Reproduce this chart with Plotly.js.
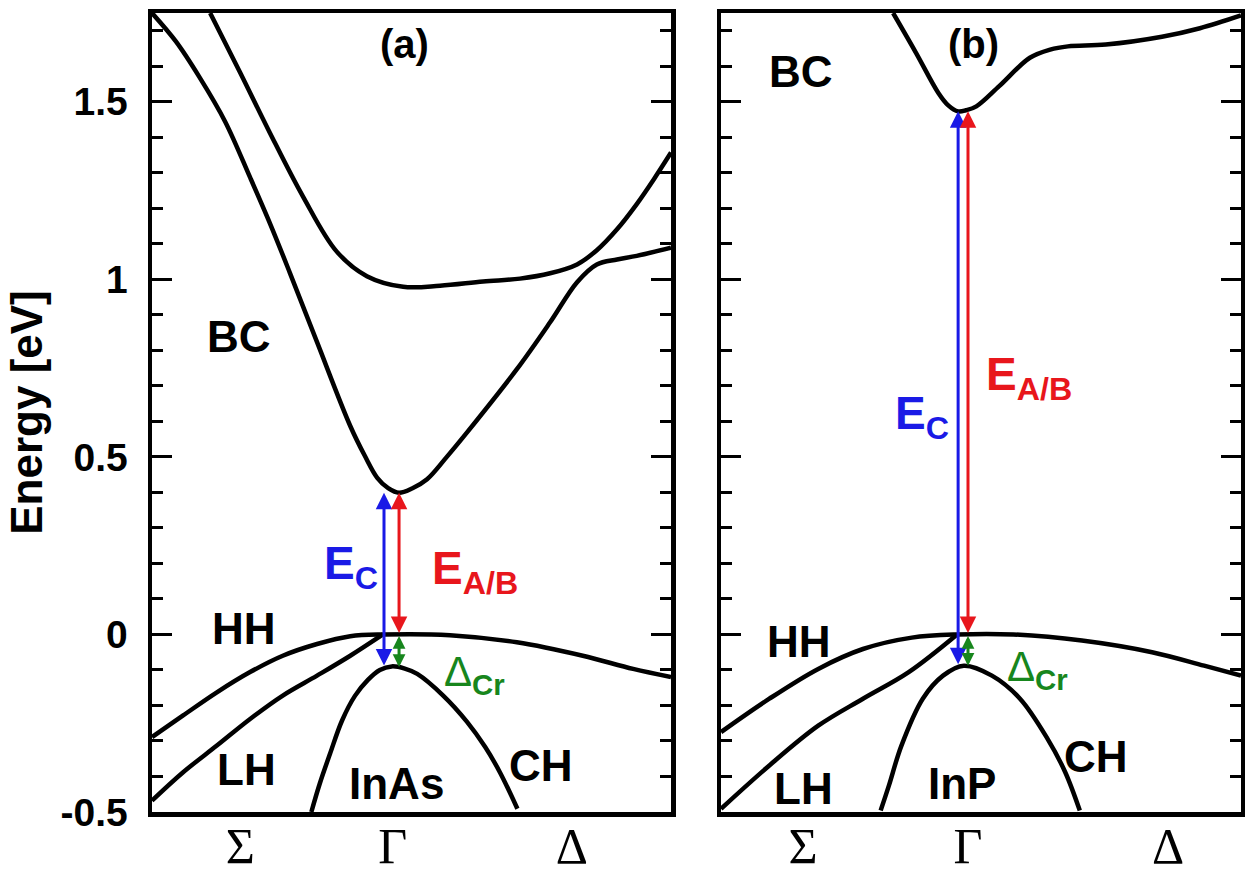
<!DOCTYPE html>
<html>
<head>
<meta charset="utf-8">
<script src="https://cdn.plot.ly/plotly-3.0.1.min.js"></script>
<style>html,body{margin:0;padding:0;background:#fff;}#plot{width:1245px;height:875px;}</style>
</head>
<body>
<div id="plot"></div>
<script>
// k-path position inside each panel: 0 = left edge (Σ side), 1 = right edge (Δ side); energies in eV

// ---- panel (a): InAs ----
const aBC1_k = [0.000, 0.046, 0.092, 0.141, 0.189, 0.228, 0.266, 0.318, 0.382, 0.410, 0.434, 0.455, 0.476, 0.501, 0.530, 0.568, 0.607, 0.703, 0.767, 0.819, 0.857, 0.896, 0.934, 1.000];
const aBC1_E = [1.750, 1.670, 1.568, 1.444, 1.287, 1.155, 1.017, 0.823, 0.587, 0.503, 0.441, 0.412, 0.399, 0.411, 0.437, 0.500, 0.569, 0.747, 0.879, 0.992, 1.042, 1.056, 1.066, 1.089];
const aBC2_k = [0.112, 0.170, 0.227, 0.291, 0.356, 0.414, 0.484, 0.555, 0.638, 0.709, 0.767, 0.819, 0.857, 0.896, 0.934, 0.967, 1.000];
const aBC2_E = [1.750, 1.582, 1.413, 1.233, 1.078, 1.009, 0.979, 0.982, 0.994, 1.002, 1.017, 1.042, 1.082, 1.141, 1.212, 1.282, 1.357];
const aHH_k = [0.000, 0.060, 0.125, 0.189, 0.252, 0.318, 0.382, 0.445, 0.574, 0.703, 0.830, 0.927, 1.000];
const aHH_E = [-0.289, -0.228, -0.163, -0.106, -0.060, -0.027, -0.005, 0.000, -0.002, -0.022, -0.060, -0.097, -0.120];
const aLH_k = [0.000, 0.060, 0.125, 0.189, 0.252, 0.318, 0.382, 0.445];
const aLH_E = [-0.468, -0.388, -0.313, -0.238, -0.172, -0.116, -0.060, 0.000];
const aCH_k = [0.307, 0.323, 0.343, 0.366, 0.391, 0.416, 0.439, 0.462, 0.487, 0.511, 0.561, 0.607, 0.642, 0.671, 0.704];
const aCH_E = [-0.500, -0.421, -0.336, -0.243, -0.173, -0.128, -0.100, -0.090, -0.096, -0.111, -0.172, -0.246, -0.317, -0.390, -0.491];

// ---- panel (b): InP ----
const bBC_k = [0.331, 0.375, 0.418, 0.437, 0.456, 0.471, 0.491, 0.535, 0.594, 0.633, 0.667, 0.740, 0.848, 0.921, 1.000];
const bBC_E = [1.750, 1.638, 1.525, 1.490, 1.473, 1.476, 1.487, 1.544, 1.624, 1.647, 1.656, 1.661, 1.683, 1.707, 1.743];
const bHH_k = [0.000, 0.093, 0.187, 0.273, 0.367, 0.454, 0.562, 0.694, 0.829, 0.929, 1.000];
const bHH_E = [-0.275, -0.181, -0.097, -0.041, -0.009, 0.000, 0.000, -0.017, -0.050, -0.088, -0.116];
const bLH_k = [0.000, 0.093, 0.187, 0.273, 0.361, 0.454];
const bLH_E = [-0.491, -0.369, -0.257, -0.181, -0.106, 0.000];
const bCH_k = [0.307, 0.323, 0.347, 0.388, 0.427, 0.467, 0.521, 0.575, 0.628, 0.662, 0.690];
const bCH_E = [-0.496, -0.425, -0.313, -0.181, -0.116, -0.088, -0.116, -0.181, -0.294, -0.388, -0.496];

// gap energies (eV): VBM, crystal-field-split band top, conduction band minimum
const vbm = [0.0, 0.0];
const chTop = [-0.092, -0.088];
const cbMin = [0.399, 1.473];

// tick labels
const yTickVals = [-0.5, 0, 0.5, 1, 1.5];
const yTickText = ['-0.5', '0', '0.5', '1', '1.5'];
const kLabels = ['\u03A3', '\u0393', '\u0394'];
const kLabelPosA = [0.170, 0.464, 0.809];
const kLabelPosB = [0.158, 0.475, 0.860];

const SANS = 'Liberation Sans, Arial, sans-serif';
const SERIF = 'Liberation Serif, Times New Roman, serif';
const lineStyle = {color: '#000', width: 4.5, shape: 'spline', smoothing: 1.0};

function band(k, E, xa, ya) {
  return {x: k, y: E, xaxis: xa, yaxis: ya, mode: 'lines', line: lineStyle, hoverinfo: 'skip', showlegend: false};
}

const data = [
  band(aBC1_k, aBC1_E, 'x', 'y'),
  band(aBC2_k, aBC2_E, 'x', 'y'),
  band(aHH_k, aHH_E, 'x', 'y'),
  band(aLH_k, aLH_E, 'x', 'y'),
  band(aCH_k, aCH_E, 'x', 'y'),
  band(bBC_k, bBC_E, 'x2', 'y2'),
  band(bHH_k, bHH_E, 'x2', 'y2'),
  band(bLH_k, bLH_E, 'x2', 'y2'),
  band(bCH_k, bCH_E, 'x2', 'y2')
];

const BLUE = '#1a1ae6', RED = '#e8161c', GREEN = '#17861d';

function arrow(xr, yr, xk, yFrom, yTo, color, sz) {
  return {xref: xr, yref: yr, axref: xr, ayref: yr, x: xk, y: yTo, ax: xk, ay: yFrom,
    text: '', showarrow: true, arrowhead: 2, startarrowhead: 2, arrowside: 'end+start',
    arrowsize: sz, startarrowsize: sz, arrowwidth: 3, arrowcolor: color, standoff: 0, startstandoff: 0};
}
function label(xr, yr, x, y, txt, opts) {
  return Object.assign({xref: xr, yref: yr, x: x, y: y, text: txt, showarrow: false,
    xanchor: 'center', yanchor: 'middle',
    font: {family: SANS, size: 44, color: '#000', weight: 'bold'}}, opts || {});
}

const panels = [
  {xr: 'x', yr: 'y', i: 0, xb: 0.447, xr2: 0.476},
  {xr: 'x2', yr: 'y2', i: 1, xb: 0.456, xr2: 0.475}
];
const annotations = [];
panels.forEach(p => {
  annotations.push(arrow(p.xr, p.yr, p.xb, chTop[p.i], cbMin[p.i], BLUE, 1.1));
  annotations.push(arrow(p.xr, p.yr, p.xr2, vbm[p.i], cbMin[p.i], RED, 1.1));
  annotations.push(arrow(p.xr, p.yr, p.xr2, vbm[p.i], chTop[p.i], GREEN, 0.85));
});

const dFont = c => ({family: SANS, size: 42, color: c, weight: 'normal'});
// panel (a) text
annotations.push(label('x', 'y', 0.487, 1.664, '(a)', {font: {family: SANS, size: 40, color: '#000', weight: 'bold'}}));
annotations.push(label('x', 'y', 0.168, 0.840, 'BC'));
annotations.push(label('x', 'y', 0.177, 0.018, 'HH'));
annotations.push(label('x', 'y', 0.183, -0.381, 'LH'));
annotations.push(label('x', 'y', 0.472, -0.420, 'InAs'));
annotations.push(label('x', 'y', 0.750, -0.370, 'CH'));
annotations.push(label('x', 'y', 0.328, 0.190, 'E<sub>C</sub>', {xanchor: 'left', font: {family: SANS, size: 46, color: BLUE, weight: 'bold'}}));
annotations.push(label('x', 'y', 0.536, 0.176, 'E<sub>A/B</sub>', {xanchor: 'left', font: {family: SANS, size: 46, color: RED, weight: 'bold'}}));
annotations.push(label('x', 'y', 0.559, -0.112, '\u0394<sub><b>Cr</b></sub>', {xanchor: 'left', font: dFont(GREEN)}));
// panel (b) text
annotations.push(label('x2', 'y2', 0.485, 1.664, '(b)', {font: {family: SANS, size: 40, color: '#000', weight: 'bold'}}));
annotations.push(label('x2', 'y2', 0.154, 1.585, 'BC'));
annotations.push(label('x2', 'y2', 0.150, -0.021, 'HH'));
annotations.push(label('x2', 'y2', 0.158, -0.435, 'LH'));
annotations.push(label('x2', 'y2', 0.463, -0.420, 'InP'));
annotations.push(label('x2', 'y2', 0.721, -0.345, 'CH'));
annotations.push(label('x2', 'y2', 0.331, 0.614, 'E<sub>C</sub>', {xanchor: 'left', font: {family: SANS, size: 46, color: BLUE, weight: 'bold'}}));
annotations.push(label('x2', 'y2', 0.506, 0.724, 'E<sub>A/B</sub>', {xanchor: 'left', font: {family: SANS, size: 46, color: RED, weight: 'bold'}}));
annotations.push(label('x2', 'y2', 0.546, -0.100, '\u0394<sub><b>Cr</b></sub>', {xanchor: 'left', font: dFont(GREEN)}));

function xAxis(domain, anchor, pos) {
  return {domain: domain, anchor: anchor, range: [0, 1], showgrid: false, zeroline: false,
    showline: true, linewidth: 4.5, linecolor: '#000', mirror: true, ticks: '',
    tickmode: 'array', tickvals: pos, ticktext: kLabels, ticklabelstandoff: -14,
    tickfont: {family: SERIF, size: 50, color: '#000'}, fixedrange: true};
}
function yAxis(anchor, showLabels, title) {
  const ax = {anchor: anchor, range: [-0.5, 1.75], showgrid: false, zeroline: false,
    showline: true, linewidth: 4.5, linecolor: '#000', mirror: 'allticks',
    tickmode: 'array', tickvals: yTickVals, ticktext: yTickText,
    ticks: 'inside', ticklen: 20, tickwidth: 3, tickcolor: '#000',
    minor: {tickmode: 'linear', tick0: 0, dtick: 0.1, ticks: 'inside', ticklen: 11, tickwidth: 3, tickcolor: '#000', showgrid: false},
    showticklabels: showLabels, ticklabelstandoff: 12,
    tickfont: {family: SANS, size: 39, color: '#000', weight: 'bold'}, fixedrange: true};
  if (title) ax.title = {text: title, font: {family: SANS, size: 44, color: '#000', weight: 'bold'}, standoff: 5};
  return ax;
}

const layout = {
  width: 1245, height: 875,
  margin: {l: 152, r: 4, t: 13, b: 63},
  paper_bgcolor: '#fff', plot_bgcolor: '#fff',
  showlegend: false,
  xaxis: xAxis([0, 0.4766], 'y', kLabelPosA),
  yaxis: yAxis('x', true, 'Energy [eV]'),
  xaxis2: xAxis([0.5225, 1], 'y2', kLabelPosB),
  yaxis2: yAxis('x2', false, null),
  annotations: annotations
};

Plotly.newPlot('plot', data, layout, {displayModeBar: false, staticPlot: true});
</script>
</body>
</html>
